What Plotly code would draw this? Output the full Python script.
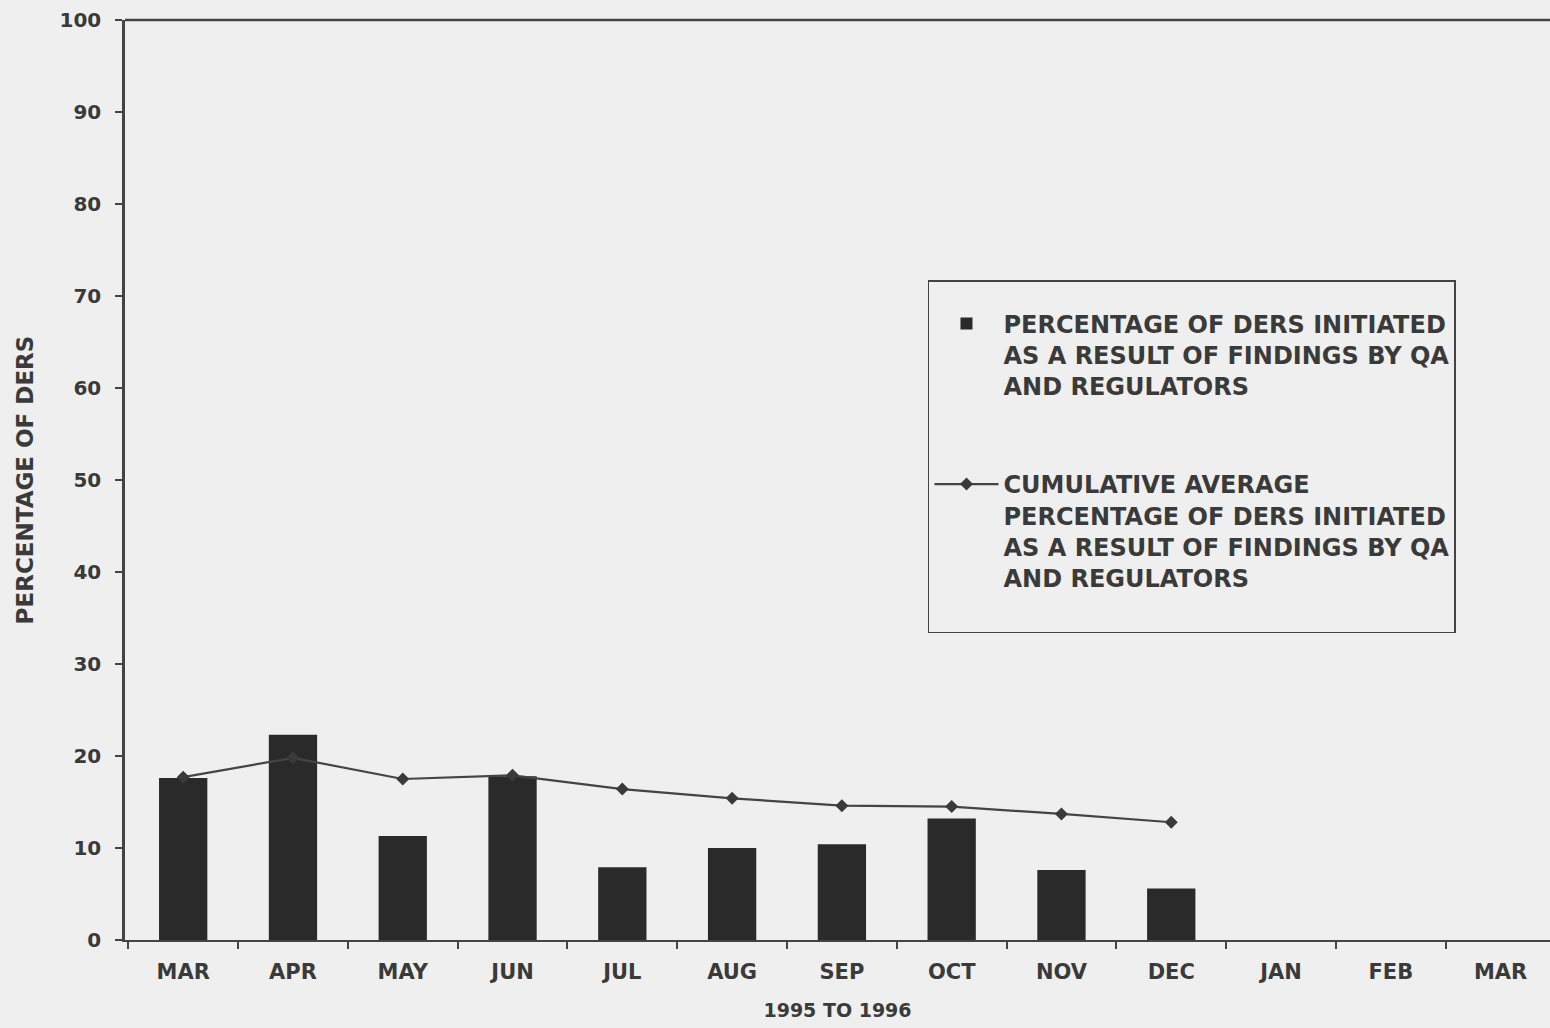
import plotly.graph_objects as go

# Month labels along the x axis (March 1995 to March 1996)
months = ["MAR", "APR", "MAY", "JUN", "JUL", "AUG", "SEP",
          "OCT", "NOV", "DEC", "JAN", "FEB", "MAR"]

# Monthly percentage of DERs initiated from QA / regulator findings
monthly_pct = [17.6, 22.3, 11.3, 17.8, 7.9, 10.0, 10.4, 13.2, 7.6, 5.6]

# Cumulative average of the same percentage
cumulative_avg = [17.7, 19.8, 17.5, 17.9, 16.4, 15.4, 14.6, 14.5, 13.7, 12.8]

y_ticks = [0, 10, 20, 30, 40, 50, 60, 70, 80, 90, 100]

x_pos = list(range(len(months)))
ink = "#3a3a3a"
axis_ink = "#444444"
font_family = "DejaVu Sans, Verdana, sans-serif"

fig = go.Figure()

fig.add_trace(go.Bar(
    x=x_pos[:len(monthly_pct)],
    y=monthly_pct,
    width=0.44,
    marker=dict(color="#2a2a2a", line=dict(width=0)),
    name="PERCENTAGE OF DERS INITIATED<br>AS A RESULT OF FINDINGS BY QA<br>AND REGULATORS",
    legendgroup="a",
))

fig.add_trace(go.Scatter(
    x=x_pos[:len(cumulative_avg)],
    y=cumulative_avg,
    mode="lines+markers",
    line=dict(color="#444444", width=2.2),
    marker=dict(symbol="diamond", size=10, color="#3a3a3a"),
    name="CUMULATIVE AVERAGE<br>PERCENTAGE OF DERS INITIATED<br>AS A RESULT OF FINDINGS BY QA<br>AND REGULATORS<br>\u00a0",
    legendgroup="b",
))

fig.update_layout(
    width=1550,
    height=1028,
    margin=dict(l=125, r=0, t=20, b=88),
    paper_bgcolor="#efefef",
    plot_bgcolor="#efefef",
    font=dict(family=font_family, color=ink, size=20),
    legend=dict(
        x=0.5635, y=0.717, xanchor="left", yanchor="top",
        bgcolor="rgba(0,0,0,0)",
        bordercolor="#444444", borderwidth=1.5,
        font=dict(size=24, color=ink, family=font_family, weight="bold"),
        title=dict(text="\u00a0", font=dict(size=15)),
        traceorder="grouped",
        tracegroupgap=64,
        itemwidth=64,
        valign="top",
    ),
    xaxis=dict(
        range=[-0.53, 12.45],
        tickmode="array",
        tickvals=x_pos,
        ticktext=months,
        ticks="",
        ticklabelstandoff=12,
        tickfont=dict(size=21, color=ink, weight="bold"),
        showline=True, linecolor=axis_ink, linewidth=2,
        showgrid=False, zeroline=False,
        minor=dict(tickmode="linear", tick0=0.5, dtick=1,
                   ticks="outside", ticklen=7, tickwidth=2,
                   tickcolor=axis_ink, showgrid=False),
        title=dict(text="1995 TO 1996",
                   font=dict(size=19, color=ink, weight="bold"), standoff=20),
    ),
    yaxis=dict(
        range=[0, 100],
        tickmode="array",
        tickvals=y_ticks,
        ticks="outside", ticklen=7, tickwidth=2, tickcolor=axis_ink,
        ticklabelstandoff=10,
        tickfont=dict(size=20, color=ink, weight="bold"),
        showline=True, linecolor=axis_ink, linewidth=2.5,
        showgrid=False, zeroline=False,
        title=dict(text="PERCENTAGE OF DERS",
                   font=dict(size=23, color=ink, weight="bold"), standoff=20),
    ),
    shapes=[dict(type="line", xref="paper", yref="paper",
                 x0=0, x1=1, y0=1, y1=1,
                 line=dict(color=axis_ink, width=2.5))],
)

fig.write_html("out.html")
